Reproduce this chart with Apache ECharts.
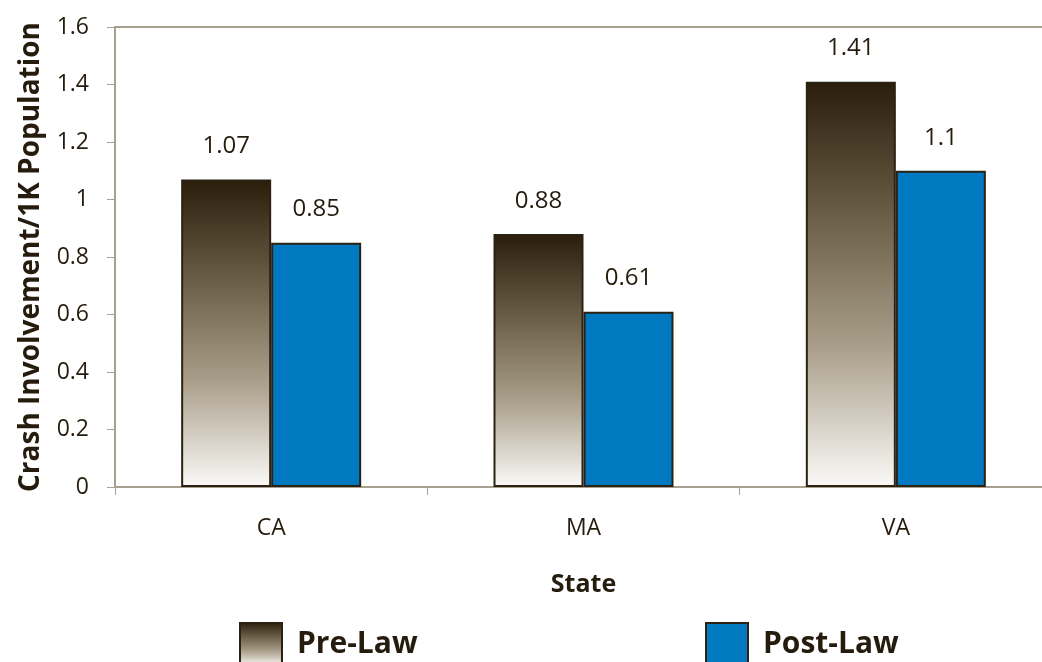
<!DOCTYPE html>
<html>
<head>
<meta charset="utf-8">
<script src="https://cdn.jsdelivr.net/npm/echarts@6/dist/echarts.min.js"></script>
<style>
    html, body { margin: 0; padding: 0; background: #ffffff; }
    #chart { width: 1042px; height: 662px; }
</style>
</head>
<body>
<div id="chart"></div>
<script>
const states = ["CA", "MA", "VA"];
const preLaw = [1.07, 0.88, 1.41];
const postLaw = [0.85, 0.61, 1.1];
const yTicks = { min: 0, max: 1.6, interval: 0.2 };

const TEXT = "#261c0e";
const AXIS = "#a79f8f";
const EDGE = "#2b2213";
const FONT = "'Open Sans', sans-serif";

const preGradient = new echarts.graphic.LinearGradient(0, 0, 0, 1, [
    { offset: 0, color: "#2a1d0a" },
    { offset: 0.35, color: "#6e624c" },
    { offset: 0.65, color: "#a89d88" },
    { offset: 1, color: "#fbfaf8" },
]);

function legendBlock(name, left) {
    return {
        data: [{ name: name, icon: "rect" }],
        left: left,
        top: 617,
        orient: "horizontal",
        itemWidth: 42,
        itemHeight: 42,
        selectedMode: false,
        textStyle: {
            color: TEXT,
            fontFamily: FONT,
            fontWeight: "bold",
            fontSize: 30,
            padding: [0, 0, 0, 10],
        },
    };
}

const chart = echarts.init(document.getElementById("chart"));

chart.setOption({
    backgroundColor: "#ffffff",
    animation: false,
    grid: {
        left: 115,
        top: 27,
        right: -10,
        bottom: 175,
        outerBoundsMode: "none",
        containLabel: false,
        show: true,
        borderColor: AXIS,
        borderWidth: 2,
    },
    legend: [legendBlock("Pre-Law", 234), legendBlock("Post-Law", 700)],
    xAxis: {
        type: "category",
        data: states,
        name: "State",
        nameLocation: "middle",
        nameGap: 85,
        nameTextStyle: { color: TEXT, fontFamily: FONT, fontWeight: "bold", fontSize: 25 },
        axisLine: { lineStyle: { color: AXIS, width: 2 } },
        axisTick: { show: true, length: 8, lineStyle: { color: AXIS, width: 1 } },
        axisLabel: { color: TEXT, fontFamily: FONT, fontSize: 23, margin: 30 },
    },
    yAxis: {
        type: "value",
        min: yTicks.min,
        max: yTicks.max,
        interval: yTicks.interval,
        name: "Crash Involvement/1K Population",
        nameLocation: "middle",
        nameGap: 70,
        nameTextStyle: { color: TEXT, fontFamily: FONT, fontWeight: "bold", fontSize: 28 },
        axisLine: { show: true, lineStyle: { color: AXIS, width: 2 } },
        axisTick: { show: true, length: 8, lineStyle: { color: AXIS, width: 1 } },
        splitLine: { show: false },
        axisLabel: {
            color: TEXT,
            fontFamily: FONT,
            fontSize: 23,
            margin: 26,
            formatter: (v) => String(Math.round(v * 10) / 10),
        },
    },
    series: [
        {
            name: "Pre-Law",
            type: "bar",
            data: preLaw,
            barWidth: 90,
            barGap: "0%",
            itemStyle: { color: preGradient, borderColor: EDGE, borderWidth: 2 },
            label: {
                show: true,
                position: "top",
                distance: 21,
                color: TEXT,
                fontFamily: FONT,
                fontSize: 24,
            },
        },
        {
            name: "Post-Law",
            type: "bar",
            data: postLaw,
            barWidth: 90,
            itemStyle: { color: "#0079c1", borderColor: EDGE, borderWidth: 2 },
            label: {
                show: true,
                position: "top",
                distance: 21,
                color: TEXT,
                fontFamily: FONT,
                fontSize: 24,
            },
        },
    ],
});
</script>
</body>
</html>
